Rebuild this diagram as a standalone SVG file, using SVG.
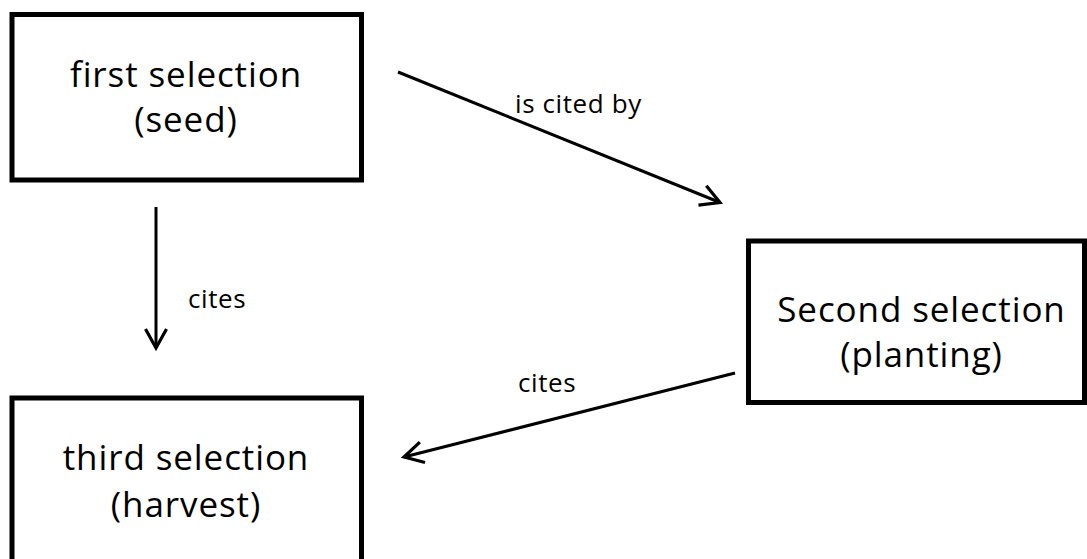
<svg xmlns="http://www.w3.org/2000/svg" width="1087" height="559" viewBox="0 0 1087 559">
<style>
.box{fill:#fff;stroke:#000;stroke-width:5}
.t{font-family:"Open Sans","Liberation Sans",sans-serif;font-size:35px;letter-spacing:0.9px;fill:#000;text-anchor:middle}
.lbl{font-family:"Open Sans","Liberation Sans",sans-serif;font-size:26px;letter-spacing:0.6px;fill:#000}
.edge{fill:none;stroke:#000;stroke-width:3}
</style>
<defs>
<marker id="ah" markerUnits="userSpaceOnUse" viewBox="-24 -14 28 28" refX="0" refY="0" markerWidth="28" markerHeight="28" orient="auto">
<path d="M-19,-10.5 L0,0 L-19,10.5" fill="none" stroke="#000" stroke-width="3.2" stroke-linejoin="miter"/>
</marker>
</defs>
<rect width="1087" height="559" fill="#fff"/>
<g id="n1">
<rect class="box" x="12" y="14.5" width="349.5" height="165.5"/>
<text class="t" x="186" y="87">first selection</text>
<text class="t" x="186" y="132">(seed)</text>
</g>
<g id="n2">
<rect class="box" x="748.5" y="241" width="336" height="161.5"/>
<text class="t" x="921.5" y="322">Second selection</text>
<text class="t" x="921.5" y="367">(planting)</text>
</g>
<g id="n3">
<rect class="box" x="12" y="398" width="349.5" height="200"/>
<text class="t" x="186" y="470">third selection</text>
<text class="t" x="186" y="517">(harvest)</text>
</g>
<g id="edges">
<line class="edge" x1="156" y1="207" x2="156" y2="348" marker-end="url(#ah)"/>
<line class="edge" x1="398" y1="72" x2="720" y2="202.5" marker-end="url(#ah)"/>
<line class="edge" x1="735" y1="373" x2="404" y2="457" marker-end="url(#ah)"/>
<text class="lbl" x="188" y="308">cites</text>
<text class="lbl" x="515" y="113">is cited by</text>
<text class="lbl" x="518" y="392">cites</text>
</g>
</svg>
